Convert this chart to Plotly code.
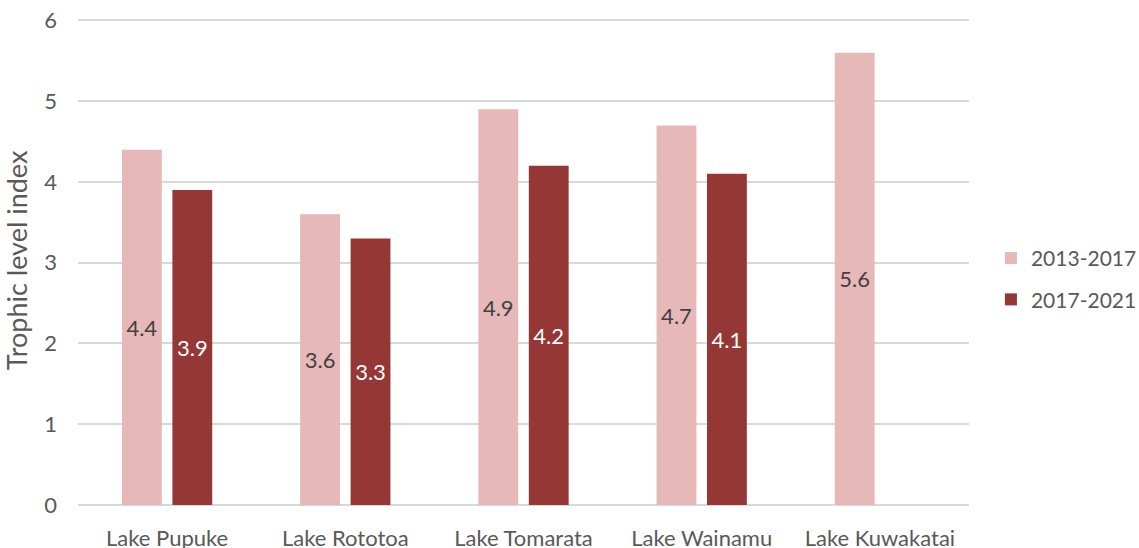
import plotly.graph_objects as go

categories = ["Lake Pupuke", "Lake Rototoa", "Lake Tomarata", "Lake Wainamu", "Lake Kuwakatai"]
series_2013_2017 = [4.4, 3.6, 4.9, 4.7, 5.6]
series_2017_2021 = [3.9, 3.3, 4.2, 4.1, None]
y_ticks = [0, 1, 2, 3, 4, 5, 6]
y_title = "Trophic level index"

FONT = "Lato, Carlito, Calibri, sans-serif"

fig = go.Figure()
fig.add_trace(go.Bar(
    name="2013-2017", x=categories, y=series_2013_2017,
    marker=dict(color="#E6B8B7", line=dict(width=0)),
    text=[f"{v}" for v in series_2013_2017],
    textposition="inside", insidetextanchor="middle", textangle=0,
    textfont=dict(color="#404040", size=22, family=FONT),
    legendgroup="a",
))
fig.add_trace(go.Bar(
    name="2017-2021", x=categories, y=series_2017_2021,
    marker=dict(color="#953735", line=dict(width=0)),
    text=[("" if v is None else f"{v}") for v in series_2017_2021],
    textposition="inside", insidetextanchor="middle", textangle=0,
    textfont=dict(color="#FFFFFF", size=22, family=FONT),
    legendgroup="b",
))

fig.update_layout(
    width=1139, height=548,
    barmode="group", bargap=0.434, bargroupgap=0.21,
    plot_bgcolor="white", paper_bgcolor="white",
    margin=dict(l=78, r=170, t=17.6, b=43),
    font=dict(family=FONT, color="#595959", size=22),
    uniformtext=dict(minsize=8, mode="show"),
    legend=dict(xref="container", yref="container", x=0.870, y=0.491,
                xanchor="left", yanchor="middle",
                font=dict(size=21, color="#595959"), tracegroupgap=11,
                itemwidth=30),
    xaxis=dict(showgrid=False, showline=False, ticks="", automargin=False,
               ticklabelstandoff=18,
               tickfont=dict(size=22, color="#595959")),
    yaxis=dict(range=[0, 6.03], tickvals=y_ticks, showgrid=True, gridcolor="#D9D9D9", gridwidth=1.5,
               zeroline=True, zerolinecolor="#D9D9D9", zerolinewidth=1.5,
               ticks="", ticklabelstandoff=20, automargin=False, ticklabeloverflow="allow",
               tickfont=dict(size=22, color="#595959")),
    annotations=[dict(text=y_title, xref="paper", yref="paper", x=-0.0695, y=0.5027,
                      xanchor="center", yanchor="middle", textangle=-90, showarrow=False,
                      font=dict(size=27, color="#595959", family=FONT))],
)

fig.write_html("out.html", config={"displayModeBar": False},
               post_script="document.body.style.margin='0';document.body.style.overflow='hidden';")
